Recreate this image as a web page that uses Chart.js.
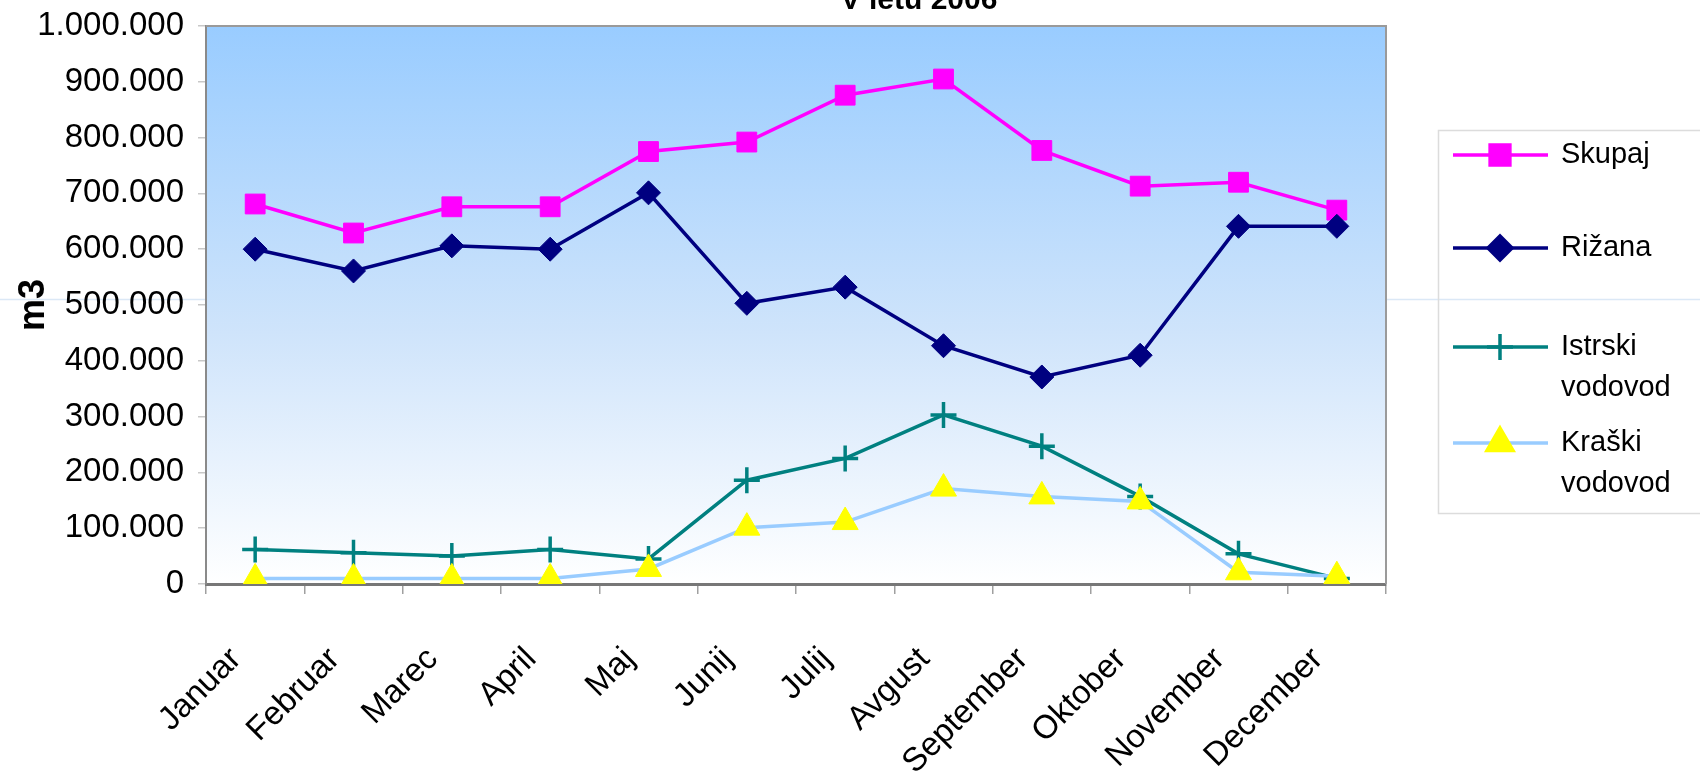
<!DOCTYPE html>
<html>
<head>
<meta charset="utf-8">
<title>Poraba vode</title>
<script src="https://cdn.jsdelivr.net/npm/chart.js@4.4.1/dist/chart.umd.min.js"></script>
<style>
    html, body { margin: 0; padding: 0; background: #fff; }
    #wrap { position: relative; width: 1700px; height: 781px; }
</style>
</head>
<body>
<div id="wrap"><canvas id="waterChart"></canvas></div>
<script>
// DATA (m3 po mesecih)
const months = ["Januar", "Februar", "Marec", "April", "Maj", "Junij", "Julij", "Avgust", "September", "Oktober", "November", "December"];
const skupaj   = [681000, 629000, 676000, 676000, 775000, 792000, 876000, 905000, 777000, 713000, 720000, 670000];
const rizana   = [600000, 561000, 606000, 600000, 701000, 503000, 532000, 427000, 371000, 410000, 641000, 641000];
const istrski  = [62000, 56000, 50000, 62000, 45000, 186000, 225000, 303000, 247000, 157000, 54000, 10000];
const kraski   = [10000, 10000, 10000, 10000, 27000, 101000, 111000, 171000, 157000, 148000, 21000, 14000];
const yTicks   = [0, 100000, 200000, 300000, 400000, 500000, 600000, 700000, 800000, 900000, 1000000];

const FONT = '"Liberation Sans", Arial, Helvetica, sans-serif';
const TITLE_TEXT = "V letu 2006";
const Y_TITLE = "m3";

// SERIES STYLE
const SERIES = [
    { label: "Skupaj",  lines: ["Skupaj"],             data: skupaj,  line: "#FF00FF", fill: "#FF00FF", style: "rect",     radius: 14, order: 4 },
    { label: "Rižana",  lines: ["Rižana"],             data: rizana,  line: "#000080", fill: "#000080", style: "rectRot",  radius: 12, order: 3 },
    { label: "Istrski vodovod", lines: ["Istrski", "vodovod"], data: istrski, line: "#008080", fill: "#008080", style: "cross", radius: 13, order: 2 },
    { label: "Kraški vodovod",  lines: ["Kraški", "vodovod"],  data: kraski,  line: "#99CCFF", fill: "#FFFF00", style: "triangle", radius: 15, order: 1 }
];

// thousands with dots, e.g. 1.000.000
function fmt(v) {
    return String(v).replace(/\B(?=(\d{3})+(?!\d))/g, ".");
}

// plot background, outline and the stray guide line
const backdropPlugin = {
    id: "backdrop",
    beforeDraw(chart) {
        const { ctx, chartArea: a, width } = chart;
        ctx.save();
        ctx.strokeStyle = "#dbe8f6";
        ctx.lineWidth = 1.5;
        ctx.beginPath();
        ctx.moveTo(0, 299.5);
        ctx.lineTo(width, 299.5);
        ctx.stroke();

        const g = ctx.createLinearGradient(0, a.top, 0, a.bottom);
        g.addColorStop(0, "#99CCFF");
        g.addColorStop(0.55, "#cfe4fb");
        g.addColorStop(1, "#ffffff");
        ctx.fillStyle = g;
        ctx.fillRect(a.left, a.top, a.right - a.left, a.bottom - a.top);
        ctx.restore();
    },
    beforeDatasetsDraw(chart) {
        const { ctx, chartArea: a } = chart;
        ctx.save();
        ctx.strokeStyle = "#9a9a9a";
        ctx.lineWidth = 2;
        ctx.beginPath();
        ctx.moveTo(a.left, a.top);
        ctx.lineTo(a.right, a.top);
        ctx.lineTo(a.right, a.bottom);
        ctx.stroke();
        ctx.restore();
    }
};

// clipped title at the very top
const titlePlugin = {
    id: "clippedTitle",
    afterDraw(chart) {
        const ctx = chart.ctx;
        ctx.save();
        ctx.font = "bold 30px " + FONT;
        ctx.fillStyle = "#000";
        ctx.textAlign = "center";
        ctx.textBaseline = "alphabetic";
        ctx.fillText(TITLE_TEXT, 919, 9);
        ctx.restore();
    }
};

// boxed legend on the right
const legendPlugin = {
    id: "boxLegend",
    afterDraw(chart) {
        const ctx = chart.ctx;
        const rows = [155, 248, 347, 443];
        ctx.save();
        ctx.strokeStyle = "#dcdcdc";
        ctx.lineWidth = 1.5;
        ctx.strokeRect(1438.5, 130.5, 300, 383);

        SERIES.forEach((s, i) => {
            const y = rows[i];
            ctx.strokeStyle = s.line;
            ctx.lineWidth = 3.5;
            ctx.beginPath();
            ctx.moveTo(1453, y);
            ctx.lineTo(1548, y);
            ctx.stroke();
            ctx.fillStyle = s.fill;
            ctx.strokeStyle = s.fill;
            Chart.helpers.drawPoint(ctx, {
                pointStyle: s.style,
                radius: s.radius,
                rotation: 0,
                borderWidth: s.style === "cross" ? 3.5 : 1
            }, 1500, y);

            ctx.fillStyle = "#000";
            ctx.font = "29px " + FONT;
            ctx.textAlign = "left";
            ctx.textBaseline = "middle";
            s.lines.forEach((t, k) => ctx.fillText(t, 1561, y + k * 41));
        });
        ctx.restore();
    }
};

// INIT CHART
const ctx = document.getElementById("waterChart").getContext("2d");
const waterChart = new Chart(ctx, {
    type: "line",
    data: {
        labels: months,
        datasets: SERIES.map(s => ({
            label: s.label,
            data: s.data,
            order: s.order,
            borderColor: s.line,
            borderWidth: 3.5,
            tension: 0,
            fill: false,
            pointStyle: s.style,
            pointRadius: s.radius,
            pointHoverRadius: s.radius,
            pointBackgroundColor: s.fill,
            pointBorderColor: s.fill,
            pointBorderWidth: s.style === "cross" ? 3.5 : 1
        }))
    },
    options: {
        responsive: true,
        maintainAspectRatio: false,
        animation: false,
        layout: { padding: { top: 26, right: 314, left: 0, bottom: 0 } },
        plugins: {
            legend: { display: false },
            title: { display: false },
            tooltip: { enabled: false }
        },
        scales: {
            x: {
                type: "category",
                offset: true,
                afterFit: s => { s.height = 197; },
                grid: {
                    offset: true,
                    drawOnChartArea: false,
                    drawTicks: true,
                    tickLength: 10,
                    color: "#a0a0a0",
                    lineWidth: 1.5
                },
                border: { display: true, color: "#777", width: 3 },
                ticks: {
                    autoSkip: false,
                    minRotation: 45,
                    maxRotation: 45,
                    padding: 46,
                    labelOffset: -19,
                    color: "#000",
                    font: { family: FONT, size: 33 }
                }
            },
            y: {
                min: 0,
                max: 1000000,
                afterFit: s => { s.width = 206; s.paddingTop = 0; },
                afterBuildTicks: s => { s.ticks = yTicks.map(v => ({ value: v })); },
                grid: {
                    drawOnChartArea: false,
                    drawTicks: true,
                    tickLength: 8,
                    color: "#c8c8c8",
                    lineWidth: 1.5
                },
                border: { display: true, color: "#8a8a8a", width: 2 },
                ticks: {
                    padding: 14,
                    color: "#000",
                    font: { family: FONT, size: 33 },
                    callback: v => fmt(v)
                },
                title: {
                    display: true,
                    text: Y_TITLE,
                    color: "#000",
                    padding: { top: 12, bottom: 0 },
                    font: { family: FONT, size: 36, weight: "bold" }
                }
            }
        }
    },
    plugins: [backdropPlugin, titlePlugin, legendPlugin]
});
</script>
</body>
</html>
